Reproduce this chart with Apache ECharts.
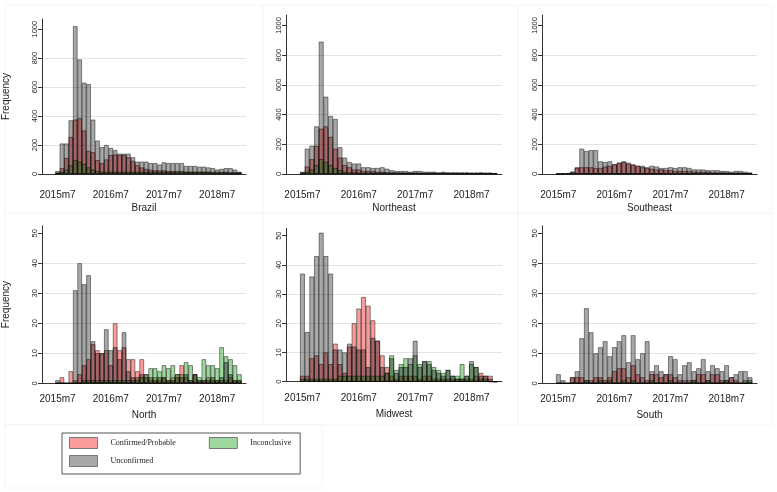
<!DOCTYPE html>
<html>
<head>
<meta charset="utf-8">
<script src="https://cdn.jsdelivr.net/npm/echarts@6/dist/echarts.min.js"></script>
<style>
html, body { margin: 0; padding: 0; background: #fff; }
#main { width: 777px; height: 492px; }
</style>
</head>
<body>
<div id="main"></div>
<script>
// monthly counts, 2015m7 .. 2018m12 (42 months)
var startYear = 2015, startMonth = 7, nMonths = 42;
var seriesNames = ['Confirmed/Probable', 'Inconclusive', 'Unconfirmed'];
var regionNames = ['Brazil', 'Northeast', 'Southeast', 'North', 'Midwest', 'South'];
var topTicks = [0, 200, 400, 600, 800, 1000];
var bottomTicks = [0, 10, 20, 30, 40, 50];

var brazilConf   = [10,40,110,255,375,385,300,160,150,95,75,100,130,135,130,130,115,90,60,45,35,30,25,25,25,20,20,20,20,15,15,15,15,15,15,10,10,10,10,10,10,10];
var brazilIncon  = [5,15,30,60,95,85,70,45,30,20,15,15,15,15,15,15,15,15,15,15,15,15,15,15,15,15,15,15,15,15,15,15,15,15,15,15,15,15,15,10,10,10];
var brazilUnconf = [20,210,210,370,1020,790,630,620,375,230,185,200,180,165,140,140,140,115,85,85,85,75,75,65,80,75,75,75,75,55,55,55,50,50,45,40,30,35,40,40,30,15];

var neConf   = [10,50,100,190,305,320,250,170,110,60,45,30,30,20,20,20,15,15,10,10,10,8,8,8,8,5,5,5,5,5,5,5,5,3,3,3,3,3,3,3,3,2];
var neIncon  = [5,15,30,60,100,80,60,40,25,15,10,10,8,8,8,8,8,8,8,8,8,8,8,8,8,8,8,8,8,8,8,8,8,8,8,8,8,8,8,8,8,5];
var neUnconf = [15,170,190,320,890,520,390,370,180,110,80,70,70,45,45,40,40,45,35,25,20,20,20,15,20,20,15,15,15,10,15,10,10,10,10,10,8,8,10,8,8,5];

var seConf   = [0,2,5,15,45,45,45,45,40,40,50,55,65,75,80,75,65,55,45,40,35,30,30,25,25,20,20,20,20,15,15,15,15,10,10,10,10,8,8,8,5,5];
var seIncon  = [0,1,2,3,5,5,5,5,5,5,5,5,5,5,5,5,5,5,5,5,5,5,5,5,5,5,5,5,5,5,5,5,5,5,5,5,5,5,5,5,5,3];
var seUnconf = [2,3,5,15,40,170,155,160,160,85,80,85,65,75,85,70,60,55,55,45,55,50,40,40,45,40,45,45,40,30,30,30,25,25,25,20,20,15,20,20,15,10];

var nConf   = [0,2,0,4,1,3,6,8,13,11,10,11,6,20,11,12,8,8,4,8,3,1,2,1,2,1,2,3,6,2,1,3,1,1,2,1,1,1,1,2,1,1];
var nIncon  = [0,0,0,0,0,0,1,1,1,1,1,1,1,1,1,1,1,1,1,2,3,5,5,4,6,5,6,3,3,7,6,3,2,8,6,6,5,12,9,8,6,3];
var nUnconf = [1,0,0,0,31,40,33,36,14,10,10,18,11,12,8,17,4,2,2,3,2,2,1,2,2,1,1,2,2,3,1,3,1,1,1,2,1,2,7,3,1,1];

var mwConf   = [2,2,8,9,6,10,6,13,6,3,12,20,25,29,26,21,14,9,5,2,1,2,2,2,2,1,2,2,1,1,1,1,1,1,1,1,1,2,3,2,2,0];
var mwIncon  = [1,1,1,1,1,1,1,1,2,2,2,2,2,2,2,2,2,2,3,9,4,6,8,6,9,6,7,7,5,4,3,4,2,2,6,2,6,5,1,1,0,0];
var mwUnconf = [37,17,36,43,51,43,37,11,11,10,13,12,11,11,5,15,14,5,3,8,3,5,5,8,14,5,7,6,4,3,2,4,2,1,1,2,7,5,2,2,1,0];

var sConf   = [0,0,0,2,2,2,1,1,2,2,1,2,4,5,5,2,6,3,2,1,3,3,2,3,3,2,1,1,1,1,3,3,1,3,3,1,1,2,1,0,0,0];
var sIncon  = [0,0,0,0,0,0,1,0,0,1,0,1,0,0,1,0,1,0,0,0,1,0,0,0,1,0,0,0,0,1,0,0,1,0,0,0,1,0,0,0,1,1];
var sUnconf = [3,1,0,2,4,15,25,17,10,12,14,9,12,14,16,7,16,8,10,14,4,6,4,3,9,8,3,6,7,4,5,8,4,6,5,4,6,2,3,4,4,2];

var regionData = [
    [brazilConf, brazilIncon, brazilUnconf],
    [neConf, neIncon, neUnconf],
    [seConf, seIncon, seUnconf],
    [nConf, nIncon, nUnconf],
    [mwConf, mwIncon, mwUnconf],
    [sConf, sIncon, sUnconf]
];

var colors = ['rgba(240,20,20,0.42)', 'rgba(0,150,0,0.38)', 'rgba(0,0,0,0.34)'];

// axis months, with 3 empty months before and 1 after
var padBefore = 3, padAfter = 1;
var months = [];
for (var k = -padBefore; k < nMonths + padAfter; k++) {
    var m = startMonth - 1 + k;
    var y = startYear + Math.floor(m / 12);
    months.push(y + 'm' + (((m % 12) + 12) % 12 + 1));
}
function pad(arr) {
    var out = [];
    for (var i = 0; i < padBefore; i++) out.push(null);
    out = out.concat(arr);
    for (var j = 0; j < padAfter; j++) out.push(null);
    return out;
}
function showTick(index, value) {
    return /m7$/.test(value) && Number(value.slice(0, 4)) <= 2018;
}

// panel boxes
var boxes = [
    {left: 42,  width: 204, top: 19,    height: 155,   max: 1070, off: 9,   lm: 7},
    {left: 286, width: 216, top: 15,    height: 159,   max: 1070, off: 9,   lm: 7},
    {left: 542, width: 215, top: 15,    height: 159,   max: 1070, off: 9,   lm: 7},
    {left: 42,  width: 204, top: 225.8, height: 157.5, max: 52.5, off: 6.5, lm: 4},
    {left: 286, width: 216, top: 228.4, height: 153.3, max: 52.5, off: 7.3, lm: 4},
    {left: 542, width: 215, top: 225.8, height: 157.5, max: 52.5, off: 6.5, lm: 4}
];

var grids = [], xAxes = [], yAxes = [], series = [];
var labelFont = "'Liberation Sans', sans-serif";
boxes.forEach(function (b, p) {
    var isTop = p < 3;
    var ticks = isTop ? topTicks : bottomTicks;
    grids.push({left: b.left, top: b.top, width: b.width, height: b.height});
    xAxes.push({
        type: 'category',
        gridIndex: p,
        data: months,
        offset: b.off,
        axisLine: {lineStyle: {color: '#333', width: 1}},
        axisTick: {alignWithLabel: true, interval: showTick, length: 4, lineStyle: {color: '#333'}},
        axisLabel: {interval: showTick, fontSize: 10, fontFamily: labelFont, color: '#222', margin: b.lm},
        splitLine: {show: false},
        name: regionNames[p],
        nameLocation: 'middle',
        nameGap: 20,
        nameTextStyle: {fontSize: 10, fontFamily: labelFont, color: '#222'}
    });
    yAxes.push({
        type: 'value',
        gridIndex: p,
        min: 0,
        max: b.max,
        interval: ticks[1] - ticks[0],
        axisLine: {show: true, lineStyle: {color: '#333', width: 1}},
        axisTick: {show: true, length: 4, lineStyle: {color: '#333'}, customValues: ticks},
        axisLabel: {rotate: 90, fontSize: 7.5, fontFamily: labelFont, color: '#222', margin: 3,
                    customValues: ticks, formatter: function (v) { return String(v); }},
        splitLine: {show: true, showMaxLine: false, lineStyle: {color: '#e4e4e4', width: 1}},
        name: (p % 3 === 0) ? 'Frequency' : '',
        nameLocation: 'middle',
        nameGap: 31,
        nameTextStyle: {fontSize: 10, fontFamily: labelFont, color: '#222'}
    });
    regionData[p].forEach(function (arr, s) {
        series.push({
            type: 'bar',
            name: seriesNames[s],
            xAxisIndex: p,
            yAxisIndex: p,
            data: pad(arr),
            barGap: '-100%',
            barCategoryGap: '0%',
            itemStyle: {color: colors[s], borderColor: 'rgba(0,0,0,0.75)', borderWidth: 0.6},
            emphasis: {disabled: true},
            silent: true
        });
    });
});

var legendBase = {
    orient: 'horizontal',
    icon: 'rect',
    itemWidth: 28,
    itemHeight: 11,
    selectedMode: false,
    textStyle: {fontFamily: 'Liberation Serif', fontSize: 8, color: '#222', padding: [0, 0, 0, 8]},
    itemStyle: {borderColor: '#777', borderWidth: 1}
};

// faint frames of the combined graph regions
var frameStyle = {fill: 'none', stroke: '#f5f5f5', lineWidth: 1};
var frames = [
    [5, 5, 258, 208], [263, 5, 255, 208], [518, 5, 254, 208],
    [5, 213, 258, 212], [263, 213, 255, 212], [518, 213, 254, 212],
    [5, 425, 317, 63]
].map(function (r) {
    return {type: 'rect', silent: true, z: -1, shape: {x: r[0], y: r[1], width: r[2], height: r[3]}, style: frameStyle};
});

var chart = echarts.init(document.getElementById('main'), null, {renderer: 'canvas'});
chart.setOption({
    backgroundColor: '#fff',
    animation: false,
    textStyle: {fontFamily: 'Liberation Sans'},
    graphic: frames,
    legend: [
        Object.assign({}, legendBase, {
            left: 62, top: 433,
            itemGap: 33,
            padding: [4, 9, 25, 7],
            borderColor: '#555',
            borderWidth: 1,
            backgroundColor: '#fff',
            data: [seriesNames[0], seriesNames[1]]
        }),
        Object.assign({}, legendBase, {
            left: 69, top: 455,
            padding: 0,
            data: [seriesNames[2]]
        })
    ],
    grid: grids,
    xAxis: xAxes,
    yAxis: yAxes,
    series: series
});
</script>
</body>
</html>
